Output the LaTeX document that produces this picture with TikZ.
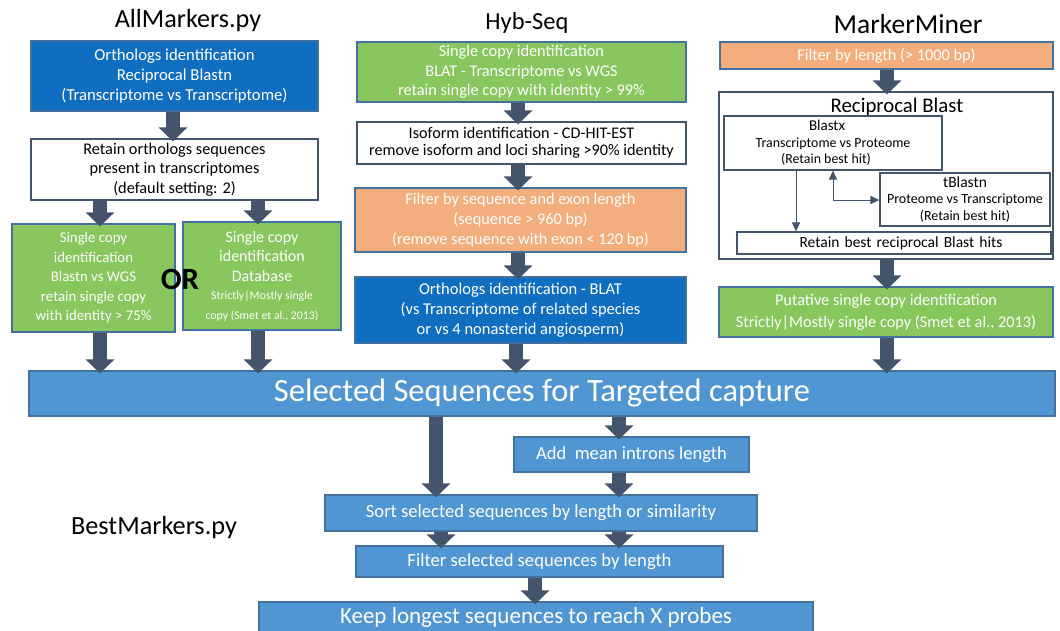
\documentclass[tikz,border=0pt]{standalone}
\usepackage{fontspec}
\setmainfont{Carlito}
\usetikzlibrary{arrows.meta}
\definecolor{dblue}{RGB}{16,110,192}
\definecolor{lblue}{RGB}{80,150,210}
\definecolor{lgreen}{RGB}{136,198,94}
\definecolor{lorange}{RGB}{244,173,124}
\definecolor{arrowc}{RGB}{68,84,106}
\definecolor{bordc}{RGB}{65,113,156}
\tikzset{
  box/.style={draw=bordc, line width=1.2pt, inner sep=0pt, align=center, font=\fontsize{16.3}{19.7}\selectfont},
  bluebox/.style={box, fill=dblue, text=white},
  greenbox/.style={box, fill=lgreen, text=white},
  orangebox/.style={box, fill=lorange, text=white},
  whitebox/.style={box, fill=white, text=black, draw=arrowc},
  lbbox/.style={box, fill=lblue, text=white},
  title/.style={inner sep=0pt, font=\fontsize{26}{30}\selectfont},
  bigarrow/.style={draw=arrowc, line width=14pt, -{Triangle[width=28pt,length=14pt]}},
  thinarrow/.style={draw=arrowc, line width=1pt, -{Triangle[width=8pt,length=9pt]}},
}
\begin{document}
\begin{tikzpicture}[x=1pt,y=-1pt]
\useasboundingbox (0,0) rectangle (1060,630);
\fill[white] (0,0) rectangle (1060,630);

% titles
\node[title, font=\fontsize{26.2}{30}\selectfont] (t1) at (188,21) {AllMarkers.py};
\node[title, font=\fontsize{24.5}{30}\selectfont] (t2) at (527,23) {Hyb-Seq};
\node[title, font=\fontsize{27.5}{30}\selectfont] (t3) at (908,24) {MarkerMiner};
\node[title, font=\fontsize{26.3}{30}\selectfont] (t4) at (154,527) {BestMarkers.py};

% AllMarkers column
\node[bluebox, minimum width=287pt, minimum height=70pt, font=\fontsize{16.7}{20}\selectfont] (A1) at (174.5,76)
  {Orthologs identification\\Reciprocal Blastn\\(Transcriptome vs Transcriptome)};
\node[whitebox, minimum width=287pt, minimum height=61pt] (A2) at (174.5,169.5)
  {Retain orthologs sequences\\present in transcriptomes\\(default setting: 2)};
\node[greenbox, minimum width=163pt, minimum height=108pt, font=\fontsize{14.8}{19.5}\selectfont] (A3) at (93.5,278)
  {Single copy\\identification\\Blastn vs WGS\\retain single copy\\with identity > 75\%};
\node[greenbox, minimum width=158pt, minimum height=108pt, font=\fontsize{16}{19.5}\selectfont] (A4) at (262,276)
  {Single copy\\identification\\Database\\[-1pt]{\fontsize{11.8}{15}\selectfont Strictly|Mostly single}\\{\fontsize{11.8}{14}\selectfont copy (Smet et al., 2013)}};
\node[inner sep=0pt, font=\fontsize{31}{34}\bfseries] (or) at (180,279) {OR};

% Hyb-Seq column
\node[greenbox, minimum width=329pt, minimum height=60pt] (H1) at (521.5,72)
  {Single copy identification\\BLAT - Transcriptome vs WGS\\retain single copy with identity > 99\%};
\node[whitebox, minimum width=329pt, minimum height=42pt, font=\fontsize{16.2}{16.5}\selectfont] (H2) at (521.5,143)
  {Isoform identification - CD-HIT-EST\\remove isoform and loci sharing >90\% identity};
\node[orangebox, minimum width=331pt, minimum height=64pt] (H3) at (520.5,220)
  {Filter by sequence and exon length\\(sequence > 960 bp)\\(remove sequence with exon < 120 bp)};
\node[bluebox, minimum width=331pt, minimum height=66pt, font=\fontsize{16.5}{19.7}\selectfont] (H4) at (520.5,310)
  {Orthologs identification - BLAT\\(vs Transcriptome of related species\\or vs 4 nonasterid angiosperm)};

% MarkerMiner column
\node[orangebox, minimum width=333pt, minimum height=27pt] (M1) at (886.5,55.5)
  {Filter by length (> 1000 bp)};
\node[whitebox, minimum width=334pt, minimum height=167pt] (M2) at (886,175.5) {};
\node[inner sep=0pt, font=\fontsize{20.8}{22}\selectfont] (rb) at (897,107) {Reciprocal Blast};
\node[whitebox, minimum width=218pt, minimum height=54pt, font=\fontsize{13.9}{16.5}\selectfont] (Bx) at (833,143)
  {{\fontsize{15}{16}\selectfont Blastx}\hspace*{12pt}\\Transcriptome vs Proteome\hspace*{12pt}\\(Retain best hit)\hspace*{14pt}};
\node[whitebox, minimum width=170pt, minimum height=53pt, font=\fontsize{14}{16.5}\selectfont] (Tb) at (965,199.5)
  {{\fontsize{15.5}{16}\selectfont tBlastn}\\Proteome vs Transcriptome\\(Retain best hit)};
\node[whitebox, minimum width=314pt, minimum height=22pt, text width=314pt, font=\fontsize{15.5}{18}\selectfont] (Rt) at (894,243)
  {\hspace*{14pt}Retain best reciprocal Blast hits};
\node[greenbox, minimum width=334pt, minimum height=50pt, font=\fontsize{16.3}{21.5}\selectfont] (M3) at (886,312)
  {Putative single copy identification\\Strictly|Mostly single copy (Smet et al., 2013)};

% Selected + BestMarkers
\node[lbbox, minimum width=1026pt, minimum height=45pt, font=\fontsize{32.5}{34}\selectfont] (S) at (542,393.5)
  {Selected Sequences for Targeted capture};
\node[lbbox, minimum width=235pt, minimum height=35pt, font=\fontsize{18.6}{20}\selectfont] (Ad) at (631.5,454.5)
  {Add\ \ mean introns length};
\node[lbbox, minimum width=432pt, minimum height=36pt, font=\fontsize{18.6}{20}\selectfont] (So) at (541,513)
  {Sort selected sequences by length or similarity};
\node[lbbox, minimum width=367pt, minimum height=31pt, font=\fontsize{18.6}{20}\selectfont] (Fi) at (539.5,561.5)
  {Filter selected sequences by length};
\node[lbbox, minimum width=554pt, minimum height=30pt, font=\fontsize{23}{24}\selectfont] (Ke) at (536,617)
  {Keep longest sequences to reach X probes};

% block arrows - AllMarkers
\draw[bigarrow] (A1.south -| 173,0) -- ([yshift=-3pt]A2.north -| 173,0);
\draw[bigarrow] (A2.south -| 100,0) -- ([yshift=-3pt]A3.north -| 100,0);
\draw[bigarrow] (A2.south -| 258,0) -- ([yshift=-3pt]A4.north -| 258,0);
\draw[bigarrow] (A3.south -| 100,0) -- ([yshift=-3pt]S.north -| 100,0);
\draw[bigarrow] (A4.south -| 258,0) -- ([yshift=-3pt]S.north -| 258,0);
% Hyb-Seq
\draw[bigarrow] (H1.south -| 518,0) -- ([yshift=-3pt]H2.north -| 518,0);
\draw[bigarrow] (H2.south -| 518,0) -- ([yshift=-3pt]H3.north -| 518,0);
\draw[bigarrow] (H3.south -| 518,0) -- ([yshift=-3pt]H4.north -| 518,0);
\draw[bigarrow] (H4.south -| 516,0) -- ([yshift=-3pt]S.north -| 516,0);
% MarkerMiner
\draw[bigarrow] (M1.south -| 887,0) -- ([yshift=-3pt]M2.north -| 887,0);
\draw[bigarrow] (M2.south -| 887,0) -- ([yshift=-3pt]M3.north -| 887,0);
\draw[bigarrow] (M3.south -| 887,0) -- ([yshift=-3pt]S.north -| 887,0);
% bottom
\draw[bigarrow] (S.south -| 436,0) -- ([yshift=-3pt]So.north -| 436,0);
\draw[bigarrow] (S.south -| 619,0) -- ([yshift=-3pt]Ad.north -| 619,0);
\draw[bigarrow] (Ad.south -| 619,0) -- ([yshift=-3pt]So.north -| 619,0);
\draw[bigarrow] (So.south -| 441,0) -- ([yshift=-3pt]Fi.north -| 441,0);
\draw[bigarrow] (So.south -| 619,0) -- ([yshift=-3pt]Fi.north -| 619,0);
\draw[bigarrow] (Fi.south -| 535,0) -- ([yshift=-3pt]Ke.north -| 535,0);

% thin arrows inside Reciprocal Blast
\draw[thinarrow] (Bx.south -| 796,0) -- (Rt.north -| 796,0);
\coordinate (bend) at (833,200);
\draw[thinarrow, {Triangle[width=8pt,length=9pt]}-{Triangle[width=8pt,length=9pt]}] (Bx.south -| bend) -- (bend) -- (Tb.west |- bend);
\end{tikzpicture}
\end{document}
